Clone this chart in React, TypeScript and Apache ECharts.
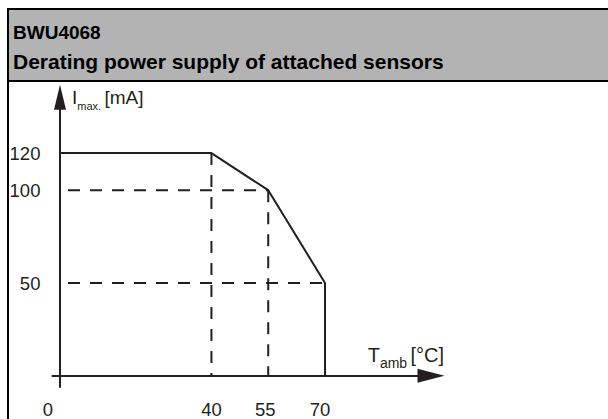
import React, { useEffect, useRef } from "react";
import * as echarts from "echarts";

// Derating curve: ambient temperature (°C) vs. max. current (mA)
const tempC = [0, 40, 55, 70, 70];
const currentMA = [120, 120, 100, 50, 0];

// Dashed guide lines
const vGuideTemps = [40, 55];
const vGuideTops = [120, 100];
const hGuideCurrents = [100, 50];
const hGuideEnds = [55, 70];

// Tick labels
const xTicks = [0, 40, 55, 70];
const yTicks = [50, 100, 120];

const titleLine1 = "BWU4068";
const titleLine2 = "Derating power supply of attached sensors";

const FONT = "'Liberation Sans', Arial, Helvetica, sans-serif";
const INK = "#231f20";

export default function App() {
  const ref = useRef<HTMLDivElement>(null);

  useEffect(() => {
    if (!ref.current) return;
    const chart = echarts.init(ref.current, undefined, { renderer: "svg" });

    const xMin = -2, xMax = 98, sx = 3.786;
    const yMin = -6, yMax = 150, sy = 1.871;
    const originX = 60, originY = 378;

    const curve = tempC.map((t, i) => [t, currentMA[i]]);
    const dashStyle = { color: INK, width: 2, type: [12, 10] as any, dashOffset: 14 };

    const series: any[] = [
      {
        type: "line",
        data: curve,
        symbol: "none",
        lineStyle: { color: INK, width: 2 },
        z: 3,
      },
    ];
    vGuideTemps.forEach((t, i) => {
      series.push({
        type: "line",
        data: [[t, vGuideTops[i]], [t, 0]],
        symbol: "none",
        lineStyle: { ...dashStyle, dashOffset: 0 },
        z: 2,
      });
    });
    hGuideCurrents.forEach((c, i) => {
      series.push({
        type: "line",
        data: [[0, c], [hGuideEnds[i], c]],
        symbol: "none",
        lineStyle: dashStyle,
        z: 2,
      });
    });

    const tick = { fontSize: 18.5, color: INK, fontFamily: FONT };

    const option: any = {
      animation: false,
      grid: {
        left: originX + xMin * sx,
        top: originY - yMax * sy,
        width: (xMax - xMin) * sx,
        height: (yMax - yMin) * sy,
        containLabel: false,
      },
      xAxis: {
        type: "value",
        min: xMin,
        max: xMax,
        axisLine: {
          onZero: true,
          lineStyle: { color: INK, width: 2 },
          symbol: ["none", "triangle"],
          symbolSize: [14, 27],
        },
        axisTick: { show: false },
        splitLine: { show: false },
        axisLabel: {
          customValues: xTicks,
          margin: 13,
          ...tick,
          formatter: (v: number) =>
            v === 0 ? "{o|0}" : v === 70 ? "{l|70}" : v === 55 ? "{m|55}" : "{n|" + v + "}",
          rich: {
            o: { ...tick, padding: [0, 24, 0, 0] },
            m: { ...tick, padding: [0, 6, 0, 0] },
            l: { ...tick, padding: [0, 10, 0, 0] },
            n: { ...tick },
          },
        },
        name: "{t|T}{s|amb} {t|[°C]}",
        nameLocation: "end",
        nameGap: 13,
        nameTextStyle: {
          align: "right",
          verticalAlign: "bottom",
          padding: [0, 0, 6, 0],
          rich: {
            t: { fontSize: 20, color: INK, fontFamily: FONT },
            s: { fontSize: 14, color: INK, fontFamily: FONT, padding: [16, 0, 0, 0] },
          },
        },
      },
      yAxis: {
        type: "value",
        min: yMin,
        max: yMax,
        axisLine: {
          onZero: true,
          lineStyle: { color: INK, width: 2 },
          symbol: ["none", "triangle"],
          symbolSize: [12, 25],
        },
        axisTick: { show: false },
        splitLine: { show: false },
        axisLabel: {
          customValues: yTicks,
          margin: 12,
          ...tick,
          padding: [4, 0, 0, 0],
        },
        name: "{t|I}{s|max.} {t|[mA]}",
        nameLocation: "end",
        nameGap: 0,
        nameTextStyle: {
          align: "left",
          verticalAlign: "middle",
          padding: [0, 0, 0, 12],
          rich: {
            t: { fontSize: 19, color: INK, fontFamily: FONT },
            s: { fontSize: 11, color: INK, fontFamily: FONT, padding: [18, 0, 0, 0] },
          },
        },
      },
      series,
      graphic: [
        { type: "rect", shape: { x: 9, y: 10, width: 599, height: 70 }, style: { fill: "#b3b3b3" }, silent: true },
        { type: "rect", shape: { x: 7, y: 8, width: 601, height: 2 }, style: { fill: "#000" }, silent: true },
        { type: "rect", shape: { x: 7, y: 80, width: 601, height: 2 }, style: { fill: "#000" }, silent: true },
        { type: "rect", shape: { x: 7, y: 8, width: 2, height: 411 }, style: { fill: "#000" }, silent: true },
        {
          type: "text",
          x: 13,
          y: 32,
          style: { text: titleLine1, font: `bold 19px ${FONT}`, fill: "#000", verticalAlign: "middle" },
        },
        {
          type: "text",
          x: 13,
          y: 61,
          style: { text: titleLine2, font: `bold 21px ${FONT}`, fill: "#000", verticalAlign: "middle" },
        },
      ],
    };

    chart.setOption(option);
    return () => chart.dispose();
  }, []);

  return (
    <div
      ref={ref}
      style={{ position: "fixed", left: 0, top: 0, width: 608, height: 419, background: "#fff" }}
    />
  );
}
